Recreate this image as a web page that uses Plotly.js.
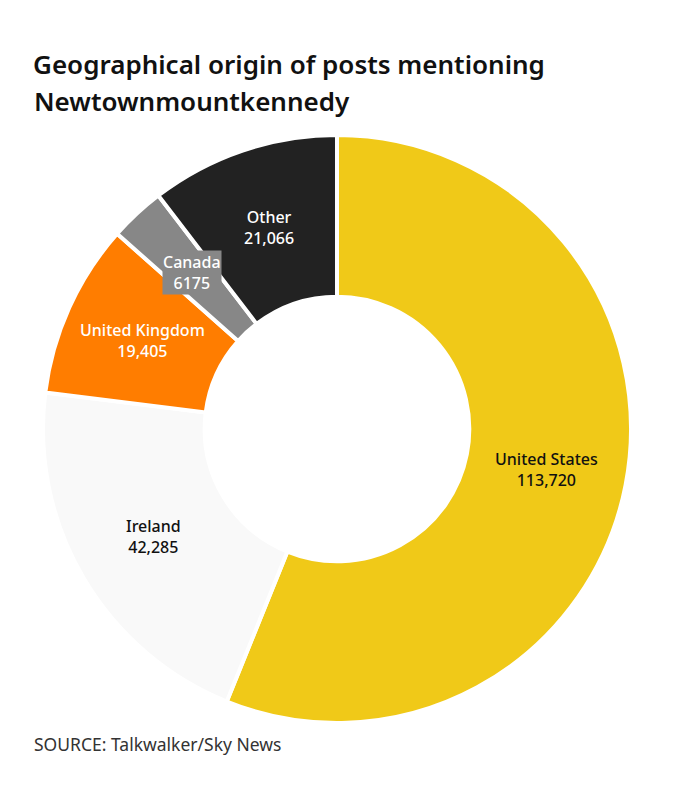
<!DOCTYPE html>
<html>
<head>
<meta charset="utf-8">
<script src="https://cdn.plot.ly/plotly-3.0.1.min.js"></script>
<style>html,body{margin:0;padding:0;background:#fff;}#chart{width:675px;height:791px;}</style>
</head>
<body>
<div id="chart"></div>
<script>
const countries = ['United States', 'Ireland', 'United Kingdom', 'Canada', 'Other'];
const posts = [113720, 42285, 19405, 6175, 21066];
const postLabels = ['113,720', '42,285', '19,405', '6175', '21,066'];
const sliceColors = ['#f0c918', '#f9f9f9', '#ff7d00', '#878787', '#222222'];
const labelColors = ['#111111', '#111111', '#ffffff', '#ffffff', '#ffffff'];

const HOLE = 0.45;
const domX = [0.0637, 0.9348];
const domY = [0.086, 0.8294];

const pieTrace = {
  type: 'pie',
  labels: countries,
  values: posts,
  textinfo: 'none',
  hole: HOLE,
  sort: false,
  direction: 'clockwise',
  rotation: 0,
  marker: {colors: sliceColors, line: {color: '#ffffff', width: 4}},
  domain: {x: domX, y: domY},
  showlegend: false,
  hoverinfo: 'label+value'
};

// empty trace so that hidden cartesian axes exist to anchor the slice labels
const anchorTrace = {type: 'scatter', x: [], y: [], showlegend: false, hoverinfo: 'skip'};

// label positions derived from the data: middle angle of each slice, mid radius of the ring
const total = posts.reduce((a, b) => a + b, 0);
let cum = 0;
const labelR = (HOLE + 1) / 2;
const labelAnns = countries.map((c, i) => {
  const mid = (cum + posts[i] / 2) / total * 2 * Math.PI;
  cum += posts[i];
  return {
    xref: 'x', yref: 'y',
    x: labelR * Math.sin(mid), y: labelR * Math.cos(mid),
    text: c + '<br>' + postLabels[i],
    showarrow: false,
    font: {family: 'Noto Sans, sans-serif', size: 16, weight: 500, color: labelColors[i]},
    bgcolor: c === 'Canada' ? sliceColors[i] : 'rgba(0,0,0,0)',
    borderpad: 0
  };
});

const textFont = {family: 'Noto Sans, sans-serif', size: 26, weight: 600, color: '#111111'};

const layout = {
  width: 675, height: 791,
  margin: {l: 0, r: 0, t: 0, b: 0},
  paper_bgcolor: '#ffffff',
  plot_bgcolor: 'rgba(0,0,0,0)',
  xaxis: {domain: domX, range: [-1, 1], visible: false, fixedrange: true},
  yaxis: {domain: domY, range: [-1, 1], visible: false, fixedrange: true},
  title: {
    text: 'Geographical origin of posts mentioning',
    font: textFont,
    x: 33/675, xanchor: 'left', xref: 'paper',
    y: 1 - 74/791, yanchor: 'bottom', yref: 'container'
  },
  annotations: [
    {text: 'Newtownmountkennedy', xref: 'paper', yref: 'paper', x: 32/675, y: 1 - 121/791,
     xanchor: 'left', yanchor: 'bottom', showarrow: false, font: textFont},
    {text: 'SOURCE: Talkwalker/Sky News', xref: 'paper', yref: 'paper', x: 32/675, y: 1 - 758/791,
     xanchor: 'left', yanchor: 'bottom', showarrow: false,
     font: {family: 'Noto Sans, sans-serif', size: 17.5, color: '#333333'}}
  ].concat(labelAnns)
};

Plotly.newPlot('chart', [pieTrace, anchorTrace], layout, {displayModeBar: false, staticPlot: true});
</script>
</body>
</html>
